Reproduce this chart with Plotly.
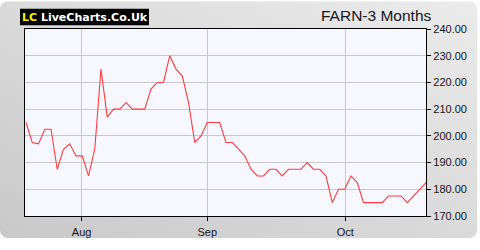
import base64
import plotly.graph_objects as go

# ---- data ----
prices = [205, 197.5, 197, 202.5, 202.5, 187.5, 195, 197, 192.5, 192.5,
          185, 195, 225, 207, 210, 210, 212.5, 210, 210, 210,
          217.5, 220, 220, 230, 225, 222.5, 212.5, 197.5, 200, 205,
          205, 205, 197.5, 197.5, 195, 192.5, 187.5, 185, 185, 187.5,
          187.5, 185, 187.5, 187.5, 187.5, 190, 187.5, 187.5, 185, 175,
          180, 180, 185, 182.5, 175, 175, 175, 175, 177.5, 177.5,
          177.5, 175, 177.5, 180, 182.5]
session = list(range(len(prices)))
month_tick_pos = [8.9, 29.0, 51.1]
month_labels = ["Aug", "Sep", "Oct"]
y_ticks = [170, 180, 190, 200, 210, 220, 230, 240]
title_text = "FARN-3 Months"

# ---- geometry ----
W, H = 480, 250
ML, MR, MT, MB = 25, 54, 29, 26
PW, PH = W - ML - MR, H - MT - MB

def px_x(px):
    return (px - ML) / PW

def px_y(py):
    return 1 - (py - MT) / PH

svg = ('<svg xmlns="http://www.w3.org/2000/svg" width="480" height="250">'
       '<defs><linearGradient id="g" x1="0" y1="1" x2="1" y2="0">'
       '<stop offset="0" stop-color="#c9c9c9"/><stop offset="1" stop-color="#ebebeb"/>'
       '</linearGradient></defs>'
       '<rect x="0" y="0" width="477" height="247" rx="8" ry="8" fill="url(#g)"/>'
       '</svg>')
src = "data:image/svg+xml;base64," + base64.b64encode(svg.encode()).decode()

fig = go.Figure()
fig.add_trace(go.Scatter(x=session, y=prices, mode="lines",
                         line=dict(color="#ff3b3b", width=1.1),
                         hoverinfo="skip", showlegend=False))

fig.update_layout(
    width=W, height=H,
    margin=dict(l=ML, r=MR, t=MT, b=MB, pad=0),
    paper_bgcolor="white",
    plot_bgcolor="rgba(0,0,0,0)",
    font=dict(family="Liberation Sans, Arial, sans-serif", size=11, color="#151520"),
    images=[dict(source=src, xref="paper", yref="paper",
                 x=px_x(0), y=px_y(0), sizex=W / PW, sizey=H / PH,
                 xanchor="left", yanchor="top", sizing="stretch", layer="below")],
    shapes=[
        dict(type="rect", xref="paper", yref="paper", x0=0, x1=1, y0=0, y1=1,
             fillcolor="#f7f8ff", line=dict(width=0), layer="below"),
        dict(type="rect", xref="paper", yref="paper",
             x0=px_x(20), x1=px_x(149), y0=px_y(25), y1=px_y(8),
             fillcolor="black", line=dict(width=0), layer="above"),
    ],
    annotations=[
        dict(text="<span style='color:#ffee00'>LC</span> LiveCharts.Co.Uk",
             xref="paper", yref="paper", x=px_x(84.5), y=px_y(16.5),
             xanchor="center", yanchor="middle", showarrow=False,
             font=dict(family="DejaVu Sans", size=11, color="white", weight="bold")),
        dict(text=title_text, xref="paper", yref="paper", x=px_x(434), y=px_y(15),
             xanchor="right", yanchor="middle", showarrow=False,
             font=dict(family="Liberation Sans, Arial, sans-serif", size=15.5, color="#151520")),
    ],
)

fig.update_xaxes(range=[-0.16, 64.0], tickmode="array", tickvals=month_tick_pos,
                 ticktext=month_labels, showgrid=True, gridcolor="#c8c8c8", gridwidth=1,
                 zeroline=False, showline=True, linecolor="black", linewidth=1.2,
                 mirror=True, ticks="outside", ticklen=4, tickcolor="black",
                 ticklabelstandoff=2)
fig.update_yaxes(range=[170, 240], side="right", tickmode="array", tickvals=y_ticks,
                 tickformat=".2f", showgrid=True, gridcolor="#c8c8c8", gridwidth=1,
                 zeroline=False, showline=True, linecolor="black", linewidth=1.2,
                 mirror=True, ticks="outside", ticklen=4, tickcolor="black")

fig.write_html("out.html")
